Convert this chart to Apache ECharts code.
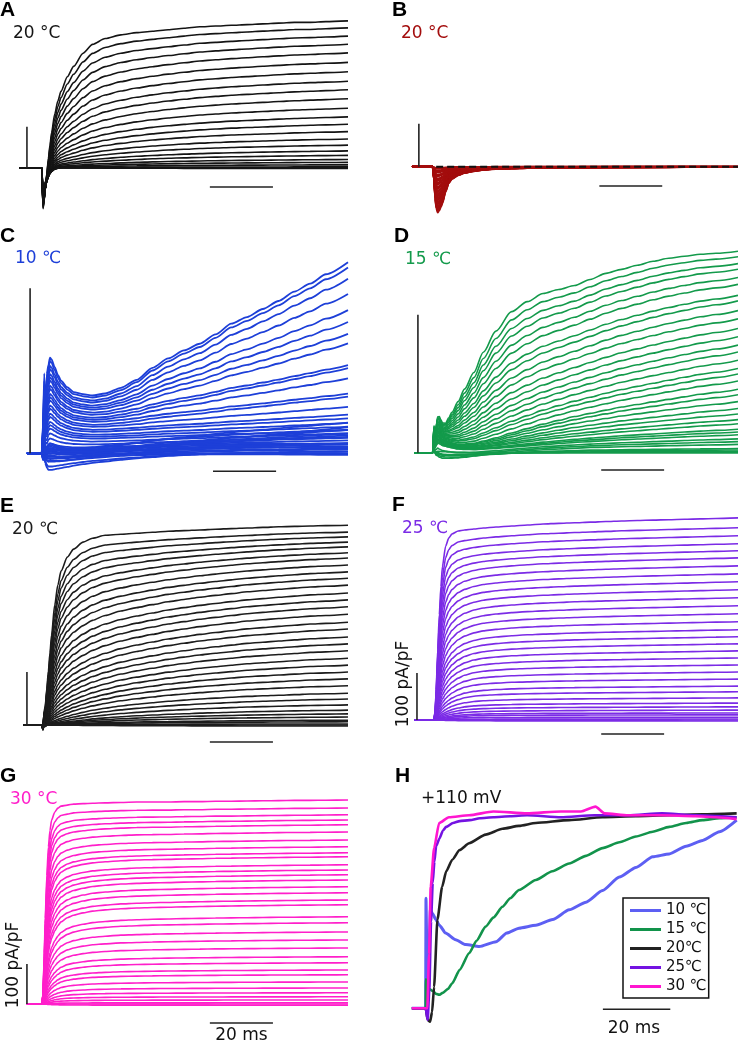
<!DOCTYPE html>
<html><head><meta charset="utf-8">
<script src="https://cdn.jsdelivr.net/npm/echarts@6/dist/echarts.min.js"></script>
<style>html,body{margin:0;padding:0;background:#fff}#c{width:738px;height:1045px}</style>
</head><body><div id="c"></div><script>
// ---------- DATA ----------
// common sample times (ms from pulse onset)
const timeMs = [-7,-0.1,0,0.3,0.7,1,1.5,2,2.5,3,4,5,6,8,10,13,16,20,25,30,35,40,45,50,55,60,65,70,75,80,85,90,97];

// Panel A (20 °C) normalized time-course components and per-trace weights [fast, slow, spike]
const A_fast  = [0,0,0,0,0.02,0.05,0.1,0.16,0.22,0.28,0.38,0.46,0.52,0.62,0.69,0.78,0.84,0.88,0.905,0.92,0.93,0.94,0.95,0.96,0.965,0.97,0.975,0.98,0.985,0.99,0.99,0.995,1];
const A_slow  = [0,0,0,0,0,0.01,0.02,0.03,0.05,0.06,0.09,0.12,0.15,0.2,0.25,0.32,0.39,0.47,0.55,0.62,0.68,0.73,0.77,0.81,0.84,0.87,0.89,0.91,0.93,0.95,0.97,0.98,1];
const A_spike = [0,0,0,-1,-0.85,-0.7,-0.5,-0.35,-0.24,-0.15,-0.06,-0.02,0,0,0,0,0,0,0,0,0,0,0,0,0,0,0,0,0,0,0,0,0];
const A_weights = [[358,0,100],[324,17,98],[289,32,96],[256,45,94],[224,56,92],[193,64,90],[164,70,88],[137,74,86],[114,76,84],[92,76,82],[73,72,80],[56,68,78],[42,64,76],[31,57,74],[21,49,72],[14,41,70],[8,33,68],[5,25,66],[2,18,64],[1,12,62],[0,7,60],[0,2,58],[0,0,56],[0,0,54],[0,0,52],[0,-2,50]];

// Panel B (20 °C, red) transient
const B_trans = [0,0,0,-0.3,-0.7,-0.9,-1,-0.95,-0.88,-0.8,-0.55,-0.36,-0.27,-0.19,-0.14,-0.1,-0.07,-0.05,-0.04,-0.03,-0.025,-0.02,-0.02,-0.018,-0.016,-0.015,-0.014,-0.013,-0.012,-0.011,-0.01,-0.01,-0.01];
const B_weights = [[107],[104],[102],[98],[95],[93],[88],[86],[84],[79],[76],[74],[70],[67],[65],[60],[58],[56],[51],[49],[47],[42],[39],[37],[33],[30],[28],[23],[21],[19],[14],[11],[9],[5],[3]];

// Panel C (10 °C) components [hump, slow, spike, dip]
const C_hump  = [0,0,0,0,0.3,0.55,0.75,0.92,1,0.98,0.9,0.82,0.76,0.69,0.64,0.61,0.59,0.59,0.6,0.6,0.6,0.6,0.6,0.6,0.6,0.6,0.6,0.6,0.6,0.6,0.6,0.6,0.6];
const C_slow  = [0,0,0,0,0,0,0,0,0,0,0,0,0,0,0,0.005,0.01,0.025,0.06,0.12,0.21,0.28,0.34,0.39,0.46,0.54,0.59,0.65,0.71,0.78,0.84,0.91,1];
const C_spike = [0,0,0,0.6,1,-0.3,0.15,0,0,0,0,0,0,0,0,0,0,0,0,0,0,0,0,0,0,0,0,0,0,0,0,0,0];
const C_dip   = [0,0,0,0,-0.3,-0.6,-0.85,-1,-1,-1,-0.97,-0.93,-0.9,-0.82,-0.75,-0.66,-0.58,-0.5,-0.4,-0.32,-0.25,-0.19,-0.14,-0.1,-0.07,-0.05,-0.03,-0.02,0,0,0,0,0];
const C_weights = [[58,81,31,0],[56,79,27,0],[53,74,25,0],[51,66,23,0],[48,58,21,0],[46,52,20,0],[44,46,18,0],[41,42,16,0],[39,30,14,0],[36,30,12,0],[34,25,10,0],[32,17,8,0],[29,17,6,0],[27,12,4,0],[24,9,2,0],[22,8,0,0],[19,7,-2,0],[17,6,-4,0],[15,5,-6,0],[12,5,-7,0],[10,4,-6,1],[8,3,-5,2],[7,2,-4,4],[5,1,-3,5],[3,1,-3,6],[2,1,-1,7],[0,1,-1,8],[0,1,0,10],[6,0,0,10],[12,-2,0,10],[0,-1,0,3],[0,0,0,0],
  [4,3,0,3],[6,2,0,5],[9,4,0,6],[2,5,0,4],[14,6,0,8],[5,8,0,2],[7,10,0,3],[11,12,0,6],[3,14,0,1],[8,7,0,9]];

// Panel D (15 °C) components [early, fast, slow, dip]
const D_early = [0,0,0,0.75,0.55,0.75,1,0.95,0.85,0.75,0.65,0.55,0.45,0.3,0.2,0.1,0.05,0.02,0,0,0,0,0,0,0,0,0,0,0,0,0,0,0];
const D_fast  = [0,0,0,0,0,0,0,0.01,0.012,0.015,0.03,0.075,0.12,0.2,0.28,0.38,0.49,0.6,0.7,0.75,0.79,0.81,0.83,0.86,0.89,0.91,0.93,0.95,0.965,0.975,0.985,0.99,1];
const D_slow  = [0,0,0,0,0,0,0,0,0,0.005,0.01,0.02,0.03,0.05,0.08,0.12,0.17,0.23,0.31,0.38,0.45,0.51,0.57,0.62,0.67,0.72,0.76,0.8,0.84,0.88,0.92,0.95,1];
const D_dip   = [0,0,0,0,-0.4,-0.7,-0.9,-1,-1,-1,-0.95,-0.9,-0.85,-0.75,-0.65,-0.5,-0.4,-0.3,-0.2,-0.13,-0.08,-0.05,-0.03,0,0,0,0,0,0,0,0,0,0];
const D_weights = [[26,146,0,0],[25,134,8,0],[25,122,15,0],[24,111,22,0],[23,99,28,0],[22,88,34,0],[22,76,38,0],[21,67,43,0],[20,57,46,0],[20,49,48,0],[19,40,50,0],[18,33,51,0],[17,26,52,0],[17,20,53,0],[16,15,52,0],[15,10,51,0],[15,7,50,0],[14,3,49,0],[13,0,46,0],[12,0,42,0],[12,0,37,0],[11,0,32,0],[10,0,28,0],[9,0,24,0],[9,0,21,0],[8,0,17,0],[7,0,15,0],[7,0,13,0],[6,0,10,3],[5,0,8,5],[4,0,6,7],[4,0,3,6],[3,0,2,4],[2,0,1,3],[1,0,0,2],[1,0,0,0]];

// Panel E (20 °C) components [fast, slow, spike]
const E_fast  = [0,0,0,0.02,0.06,0.1,0.18,0.27,0.36,0.45,0.6,0.7,0.77,0.84,0.88,0.915,0.935,0.95,0.955,0.96,0.965,0.97,0.973,0.976,0.98,0.983,0.986,0.989,0.992,0.994,0.996,0.998,1];
const E_slow  = [0,0,0,0,0.005,0.01,0.02,0.03,0.045,0.06,0.09,0.12,0.15,0.21,0.27,0.34,0.41,0.48,0.56,0.62,0.67,0.72,0.76,0.8,0.83,0.86,0.89,0.91,0.93,0.95,0.97,0.98,1];
const E_spike = [0,0,0,-1,0.6,-0.3,0.1,0,0,0,0,0,0,0,0,0,0,0,0,0,0,0,0,0,0,0,0,0,0,0,0,0,0];
const E_weights = [[377,0,8],[351,13,6],[330,25,9],[308,37,7],[288,48,8],[267,58,6],[248,67,9],[227,75,7],[206,83,8],[188,89,6],[170,94,9],[151,98,7],[135,101,8],[120,103,6],[105,104,9],[90,104,7],[78,103,8],[65,101,6],[55,98,9],[45,95,7],[36,90,8],[28,85,6],[21,79,9],[16,71,7],[11,63,8],[6,54,6],[3,46,9],[1,37,7],[0,28,8],[0,21,6],[0,15,9],[0,9,7],[0,6,8],[0,2,6],[0,0,9],[0,-2,7]];

// Panel F (25 °C) components [fast, slow]  (pA/pF)
const F_fast = [0,0,0,0,0.05,0.15,0.35,0.52,0.66,0.76,0.86,0.9,0.92,0.935,0.94,0.945,0.95,0.955,0.96,0.965,0.97,0.973,0.976,0.979,0.982,0.985,0.987,0.989,0.991,0.993,0.995,0.997,1];
const F_slow = [0,0,0,0,0.02,0.05,0.1,0.16,0.22,0.28,0.38,0.47,0.55,0.66,0.74,0.81,0.85,0.88,0.905,0.92,0.93,0.94,0.95,0.955,0.96,0.965,0.97,0.975,0.98,0.985,0.99,0.995,1];
const F_weights = [[430,0],[395,14],[366,26],[338,37],[312,48],[287,58],[262,66],[239,72],[216,78],[194,83],[173,87],[154,89],[136,90],[119,90],[102,90],[89,88],[76,86],[64,83],[53,79],[43,74],[34,68],[26,61],[19,53],[14,46],[9,38],[6,30],[4,24],[2,19],[1,14],[0,11],[0,6],[0,2],[0,0],[0,-2]];

// Panel G (30 °C) components [fast, slow]  (pA/pF)
const G_fast = [0,0,0,0.05,0.25,0.42,0.63,0.77,0.85,0.9,0.94,0.96,0.97,0.975,0.98,0.982,0.984,0.986,0.988,0.99,0.99,0.99,0.992,0.992,0.994,0.994,0.995,0.996,0.997,0.998,0.998,0.999,1];
const G_slow = [0,0,0,0.02,0.08,0.14,0.24,0.33,0.41,0.48,0.58,0.66,0.72,0.79,0.83,0.87,0.9,0.92,0.94,0.95,0.96,0.965,0.97,0.975,0.98,0.983,0.986,0.989,0.992,0.994,0.996,0.998,1];
const G_weights = [[510,0],[474,16],[441,32],[414,46],[388,60],[358,72],[328,82],[301,92],[277,101],[258,110],[232,116],[212,123],[194,129],[176,134],[156,137],[139,139],[121,139],[107,141],[87,131],[74,129],[60,120],[48,112],[37,103],[28,90],[21,82],[14,71],[10,63],[6,49],[3,37],[1,27],[0,18],[0,10],[0,3],[0,0],[0,-3]];

// Panel H: normalized currents at +110 mV  [t (ms), I/Imax]
const H_names = ['10 ℃','15 ℃','20℃','25℃','30 ℃'];
const H_10 = [[-4.2,0],[-0.1,0],[0,0.57],[0.3,0.25],[0.6,0.05],[0.9,0.3],[1.3,0.51],[2,0.49],[2.9,0.46],[4,0.43],[5.8,0.39],[8.8,0.355],[11.8,0.33],[15.8,0.32],[20.8,0.345],[24,0.39],[27.6,0.415],[32.6,0.43],[37.6,0.46],[42.5,0.51],[47.5,0.55],[52.4,0.61],[57.4,0.68],[62.3,0.73],[67.3,0.785],[72.2,0.8],[77.2,0.84],[82.1,0.87],[87.1,0.915],[92.2,0.975]];
const H_15 = [[-4.2,0],[-0.1,0],[0,0.15],[0.4,0.08],[1,0.1],[2,0.09],[3,0.075],[3.9,0.07],[5,0.08],[6.5,0.1],[7.8,0.13],[10,0.2],[12.8,0.285],[15,0.35],[17.7,0.423],[20,0.47],[22.7,0.526],[25,0.57],[27.6,0.613],[32.6,0.665],[37.5,0.71],[42.5,0.75],[47.5,0.79],[52.4,0.83],[57.4,0.86],[62.3,0.89],[67.3,0.915],[72.2,0.94],[77.2,0.96],[82.1,0.975],[87.1,0.985],[92.2,0.99]];
const H_20 = [[-4.2,0],[-0.1,0],[0.5,-0.06],[1.2,-0.07],[1.8,-0.02],[2.4,0.11],[3.4,0.46],[4.8,0.63],[6,0.71],[7.8,0.77],[10,0.82],[12.8,0.855],[17.7,0.9],[22.7,0.93],[27.6,0.945],[32.6,0.96],[42.5,0.975],[52.4,0.99],[62.3,0.995],[72.2,1],[82.1,1.005],[92.2,1.01]];
const H_25 = [[-4.2,0],[-0.1,0],[0.5,-0.06],[1,0.1],[1.5,0.45],[2,0.65],[2.5,0.76],[3,0.84],[4,0.88],[5,0.92],[6,0.94],[8,0.96],[10,0.97],[13,0.975],[16,0.985],[20,0.99],[25,0.995],[30,1],[40,0.99],[50,1],[60,1],[70,1.01],[80,1],[92.2,0.99]];
const H_30 = [[-4.2,0],[-0.1,0],[0.4,0],[0.9,0.28],[1.4,0.63],[2.4,0.83],[3.9,0.96],[6.8,0.99],[12.8,1],[20,1.02],[30,1.01],[40,1.02],[46,1.02],[50.3,1.045],[53,1.01],[60,1],[70,1],[80,0.995],[86,0.99],[92.2,0.98]];

// scale bars
const scaleBarMs = 20;
const scaleBarAmp = 100;   // pA/pF (panels F, G); unlabeled bars elsewhere use same units

// ---------- LAYOUT ----------
const FONT = '"DejaVu Sans", Verdana, sans-serif';
const panels = [
  {comps:[A_fast,A_slow,A_spike], w:A_weights, color:'#141414', left:20, top:0, height:215, base:167.7, scalePx:41, tStart:-7.3, vbarT:-4.8, hbarT:53.2, hbarDy:19.3, lw:1.6, smooth:0.25},
  {comps:[B_trans], w:B_weights, color:'#a30d0d', left:411, top:0, height:215, base:166.7, scalePx:43, tStart:-6.7, vbarT:-4.5, hbarT:52.9, hbarDy:19.3, lw:1.8, smooth:0.2, dashed:true},
  {comps:[C_hump,C_slow,C_spike,C_dip], w:C_weights, color:'#1d3fd8', left:20, top:215, height:260, base:453.3, scalePx:165, tStart:-4.8, vbarT:-3.8, hbarT:54.2, hbarDy:18, lw:1.8, smooth:0.25},
  {comps:[D_early,D_fast,D_slow,D_dip], w:D_weights, color:'#139a4b', left:411, top:215, height:260, base:452.7, scalePx:138, tStart:-6, vbarT:-4.8, hbarT:53.5, hbarDy:17.3, lw:1.6, smooth:0.3},
  {comps:[E_fast,E_slow,E_spike], w:E_weights, color:'#1c1c1c', left:20, top:475, height:275, base:725, scalePx:53, tStart:-6, vbarT:-4.8, hbarT:53.2, hbarDy:17, lw:1.6, smooth:0.25},
  {comps:[F_fast,F_slow], w:F_weights, color:'#7b2be6', left:411, top:475, height:270, base:720, scalePx:47, tStart:-6, vbarT:-5.1, hbarT:53.5, hbarDy:14, lw:1.6, smooth:0.2},
  {comps:[G_fast,G_slow], w:G_weights, color:'#ff1fca', left:20, top:745, height:300, base:1004, scalePx:40, tStart:-4.8, vbarT:-4.8, hbarT:53.2, hbarDy:19, lw:1.6, smooth:0.2}
];

const grids=[], xAxes=[], yAxes=[], series=[];
function addGrid(left, top, width, height, xMin, xMax, yMin, yMax){
  const gi = grids.length;
  grids.push({left, top, width, height, show:false, containLabel:false});
  xAxes.push({type:'value', gridIndex:gi, min:xMin, max:xMax, show:false});
  yAxes.push({type:'value', gridIndex:gi, min:yMin, max:yMax, show:false, scale:true});
  return gi;
}
function line(gi, data, color, width, extra){
  return Object.assign({type:'line', xAxisIndex:gi, yAxisIndex:gi, data, symbol:'none', silent:true,
    animation:false, lineStyle:{color, width}, itemStyle:{color}, z:2}, extra||{});
}

panels.forEach(p=>{
  const ppu = p.scalePx / scaleBarAmp;
  const gi = addGrid(p.left, p.top, 328, p.height, -7, 97, -(p.top+p.height-p.base)/ppu, (p.base-p.top)/ppu);
  p.w.forEach(w=>{
    const data = timeMs.map((t,k)=>{
      let v = 0; for(let j=0;j<w.length;j++) v += w[j]*p.comps[j][k];
      return [k===0 ? p.tStart : t, v];
    });
    series.push(line(gi, data, p.color, p.lw, {smooth:p.smooth, smoothMonotone:'x'}));
  });
  if(p.dashed) series.push(line(gi, [[1,0],[97,0]], '#111', 2, {lineStyle:{color:'#111', width:2, type:[7,4]}, z:4}));
  // vertical & horizontal scale bars
  series.push(line(gi, [[p.vbarT,0],[p.vbarT,scaleBarAmp]], '#222', 1.6, {z:5}));
  const yb = -p.hbarDy/ppu;
  series.push(line(gi, [[p.hbarT,yb],[p.hbarT+scaleBarMs,yb]], '#222', 1.6, {z:5}));
});

// Panel H
const hColors = ['#5d5ff3','#12934b','#222222','#7413e2','#ff16d0'];
const hData = [H_10,H_15,H_20,H_25,H_30];
const hPpu = 193;
const hTop=745, hH=300, hBase=1008.3;
const hg = addGrid(412, hTop, 325, hH, -4.15, 92.3, -(hTop+hH-hBase)/hPpu, (hBase-hTop)/hPpu);
hData.forEach((d,i)=>{
  series.push(line(hg, d, hColors[i], i===0?3:2.6, {name:H_names[i], z:3+i, smooth:0.2, smoothMonotone:'x'}));
});
series.push(line(hg, [[52.5,-0.005],[52.5+scaleBarMs,-0.005]], '#222', 1.6, {z:5}));

// ---------- TEXT ----------
const letters = [['A',0,10.5],['B',392,10.5],['C',0,236.5],['D',394,236.5],['E',0,506.5],['F',392,505.5],['G',0,776.5],['H',395,776.5]];
const temps = [['20 °C',13,33.5,'#141414'],['20 °C',401,33.5,'#a30d0d'],['10 ℃',15,258.5,'#1d3fd8'],['15 ℃',405,259.5,'#139a4b'],['20 ℃',12,530,'#1c1c1c'],['25 ℃',402,528.5,'#7b2be6'],['30 °C',10,799.5,'#ff1fca'],['+110 mV',421,798.5,'#111']];
const graphic = [];
letters.forEach(l=>graphic.push({type:'text', x:l[1], y:l[2], silent:true,
  style:{text:l[0], font:'bold 21px "Liberation Sans", Arial, sans-serif', fill:'#000', textAlign:'left', textVerticalAlign:'middle'}}));
temps.forEach(t=>graphic.push({type:'text', x:t[1], y:t[2], silent:true,
  style:{text:t[0], font:'17px '+FONT, fill:t[3], textAlign:'left', textVerticalAlign:'middle'}}));
graphic.push({type:'text', x:241.5, y:1036, silent:true, style:{text:'20 ms', font:'17px '+FONT, fill:'#111', textAlign:'center', textVerticalAlign:'middle'}});
graphic.push({type:'text', x:634, y:1029, silent:true, style:{text:'20 ms', font:'17px '+FONT, fill:'#111', textAlign:'center', textVerticalAlign:'middle'}});
graphic.push({type:'text', x:404, y:684, rotation:Math.PI/2, silent:true, style:{text:'100 pA/pF', font:'17px '+FONT, fill:'#111', textAlign:'center', textVerticalAlign:'middle'}});
graphic.push({type:'text', x:14, y:965, rotation:Math.PI/2, silent:true, style:{text:'100 pA/pF', font:'17px '+FONT, fill:'#111', textAlign:'center', textVerticalAlign:'middle'}});

const chart = echarts.init(document.getElementById('c'), null, {renderer:'canvas', width:738, height:1045});
chart.setOption({
  animation:false,
  backgroundColor:'#fff',
  grid:grids, xAxis:xAxes, yAxis:yAxes, series,
  legend:{data:H_names, orient:'vertical', left:623, top:898, icon:'rect', itemWidth:31, itemHeight:3, itemGap:4,
    selectedMode:false, borderColor:'#111', borderWidth:1.5, padding:[5,2,4,7], backgroundColor:'#fff',
    textStyle:{fontSize:15, fontFamily:FONT, color:'#111', lineHeight:15}},
  graphic
});
</script></body></html>
